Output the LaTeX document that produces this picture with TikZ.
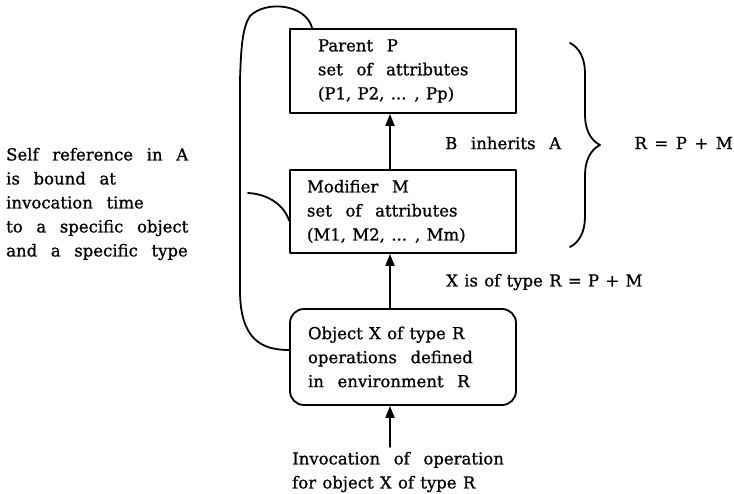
\documentclass[tikz,border=0pt]{standalone}
\usepackage{fontspec}
\setmainfont{DejaVu Serif}[WordSpace=2.6, FakeBold=0.9, AutoFakeBold=0.9]
\newfontfamily\midfam{DejaVu Serif}[WordSpace=1.4, FakeBold=0.9]
\newfontfamily\tightfam{DejaVu Serif}[WordSpace=1.2, FakeBold=0.9]
\usetikzlibrary{arrows.meta,decorations.pathreplacing}
\begin{document}
\begin{tikzpicture}[x=1pt, y=-1pt, line cap=round, line join=round,
        txt/.style={font=\fontsize{16.5}{24}\selectfont, inner sep=0pt, align=left},
        box/.style={txt, align=flush left, draw, line width=1.8pt, inner ysep=0pt},
        up/.style={line width=1.8pt, -{Triangle[length=12pt,width=9pt]}},
        wire/.style={line width=1.8pt}]

                \useasboundingbox (0,0) rectangle (734,493);

                \node[box, inner xsep=28pt, text width=170pt, minimum height=84pt] (par) at (403,71)
                        {Parent P\\set of attributes\\{\midfam (P1, P2, ... , Pp)}};
                \node[box, inner xsep=17pt, text width=192pt, minimum height=83pt] (mod) at (403,211.5)
                        {Modifier M\\set of attributes\\{\midfam (M1, M2, ... , Mm)}};
                \node[box, rounded corners=14pt, inner xsep=18pt, text width=190pt, minimum height=96pt] (obj) at (403,357)
                        {{\midfam Object X of type R}\\operations defined\\in environment R};

                \node[txt, anchor=west] (inv) at (292,472) {Invocation of operation\\{\midfam for object X of type R}};
                \node[txt, anchor=west] (self) at (6,204)
                        {Self reference in A\\is bound at\\invocation time\\to a specific object\\and a specific type};
                \node[txt, anchor=west] (inh) at (445,143) {B inherits A};
                \node[txt, anchor=west, font=\midfam\fontsize{16.5}{24}\selectfont] (xty) at (446,282) {X is of type R = P + M};
                \node[txt, anchor=east, font=\tightfam\fontsize{16.5}{24}\selectfont] (rpm) at (733,143) {R = P + M};

                \coordinate (ax) at (390,0);
                \coordinate (call) at (390,447);
                \coordinate (bnd) at (248,193);

                \draw[up] (mod.north -| ax) -- (par.south -| ax);
                \draw[up] (obj.north -| ax) -- (mod.south -| ax);
                \draw[up] (call) -- (obj.south -| ax);

                \draw[wire] ([xshift=23pt]par.north west) .. controls (306,4) and (266,0) .. (250,16)
                        .. controls (242,28) and (241,50) .. (240,80) -- (240,290)
                        .. controls (240,340) and (262,350) .. ([yshift=7pt]obj.west);
                \draw[wire] (bnd) .. controls (268,194) and (284,205) .. ([yshift=-9pt]mod.west);

                \draw[wire, decorate, decoration={brace, amplitude=30pt}] (570,43) -- (570,247);

\end{tikzpicture}
\end{document}
